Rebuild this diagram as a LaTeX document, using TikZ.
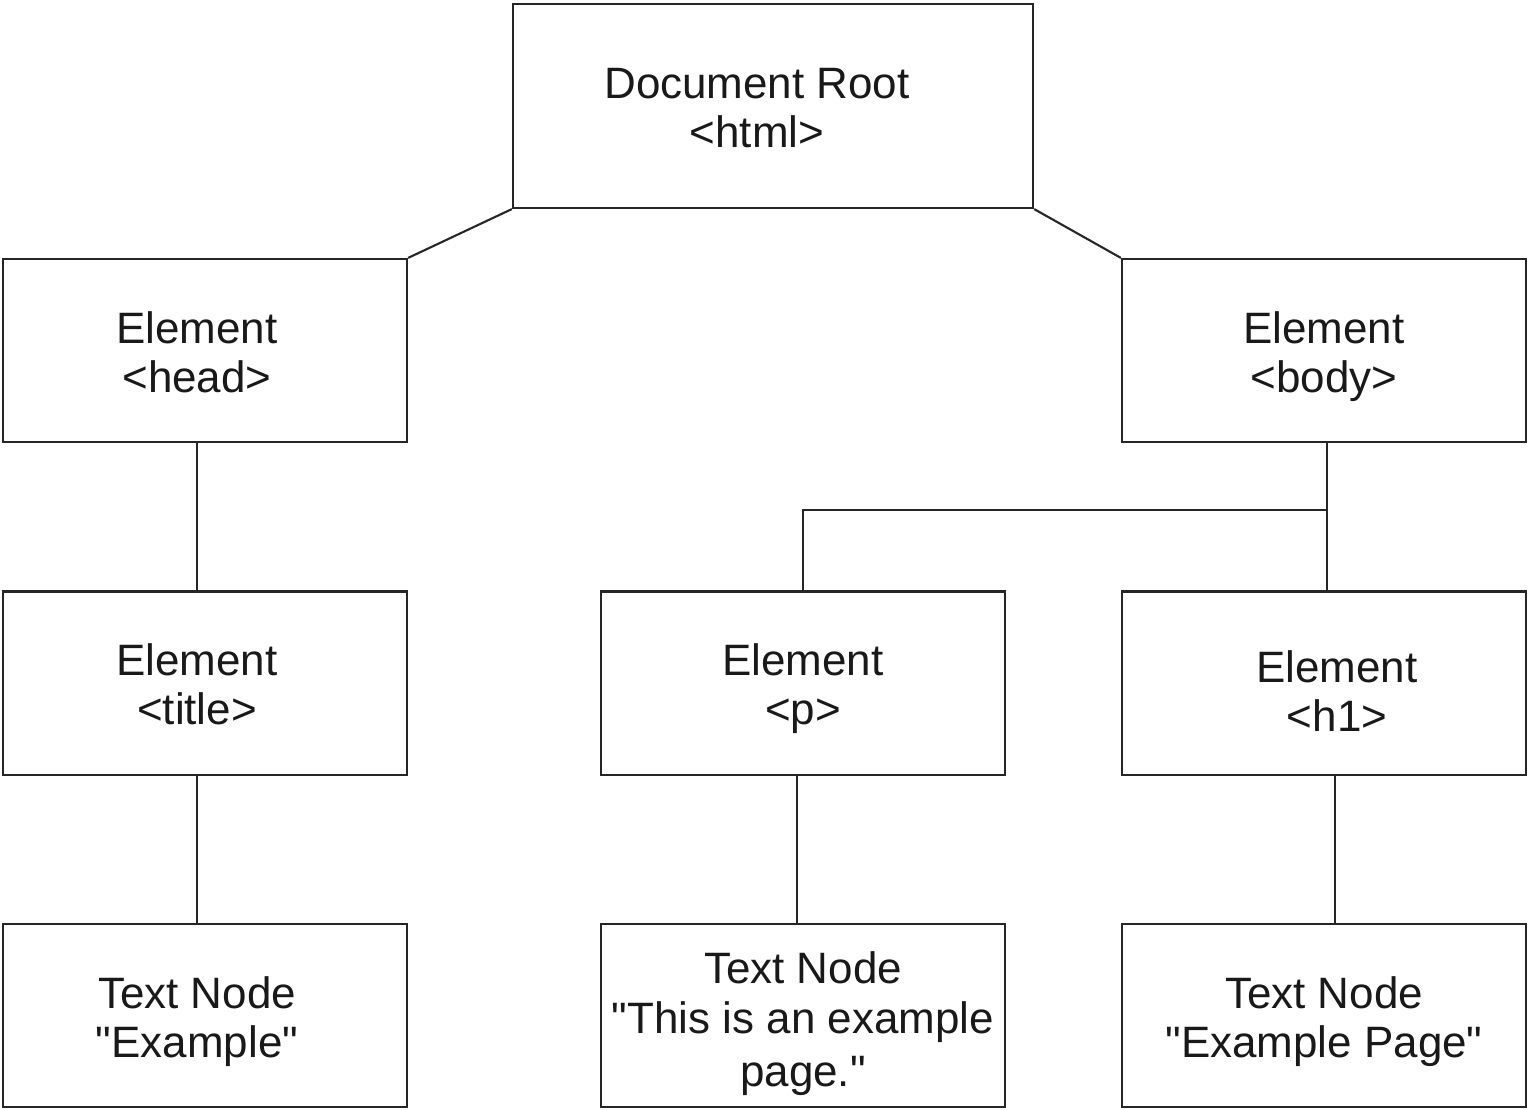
\documentclass[tikz,border=0pt]{standalone}
\usepackage{fontspec}
\setmainfont{Liberation Sans}[Ligatures=TeXOff]
\newcommand\mytopstrut{\rule{0pt}{0.49cm}}
\begin{document}
\begin{tikzpicture}[x=0.01cm,y=-0.01cm,
  box/.style={draw=black!85,line width=0.6pt,minimum width=4.04cm,minimum height=1.83cm,
    align=center,inner sep=0pt,text=black!90,font=\fontsize{12.5pt}{14pt}\selectfont},
  conn/.style={draw=black!85,line width=0.6pt}]
\useasboundingbox (0,0) rectangle (1528,1110);
\node[box,minimum width=5.2cm,minimum height=2.04cm] (root) at (773,106)
  {\mytopstrut Document Root\hspace*{0.32cm}\\\strut <html>\hspace*{0.32cm}};
\node[box] (head) at (205,350.5) {\mytopstrut Element\hspace*{0.16cm}\\\strut <head>\hspace*{0.16cm}};
\node[box] (body) at (1324,350.5) {\mytopstrut Element\\\strut <body>};
\node[box] (title) at (205,683) {\mytopstrut Element\hspace*{0.16cm}\\\strut <title>\hspace*{0.16cm}};
\node[box] (p) at (803,683) {\mytopstrut Element\\\strut <p>};
\node[box] (h1) at (1324,683)
  {\hspace*{0.26cm}\rule{0pt}{0.62cm}Element\\\hspace*{0.26cm}\strut <h1>};
\node[box] (t1) at (205,1015.5) {\mytopstrut Text Node\hspace*{0.16cm}\\\strut "Example"\hspace*{0.16cm}};
\node[box] (t2) at (803,1015.5)
  {\rule{0pt}{0.54cm}Text Node\\\strut "This is an example\\[0.04cm]\strut page."};
\node[box] (t3) at (1324,1015.5) {\mytopstrut Text Node\\\strut "Example Page"};
\coordinate (br) at (1327,510);
\draw[conn] (root.south west) -- (head.north east);
\draw[conn] (root.south east) -- (body.north west);
\draw[conn] (head.south -| 197,0) -- (title.north -| 197,0);
\draw[conn] (title.south -| 197,0) -- (t1.north -| 197,0);
\draw[conn] (body.south -| br) -- (h1.north -| br);
\draw[conn] (br) -| (p.north);
\draw[conn] (p.south -| 797,0) -- (t2.north -| 797,0);
\draw[conn] (h1.south -| 1335,0) -- (t3.north -| 1335,0);
\end{tikzpicture}
\end{document}
